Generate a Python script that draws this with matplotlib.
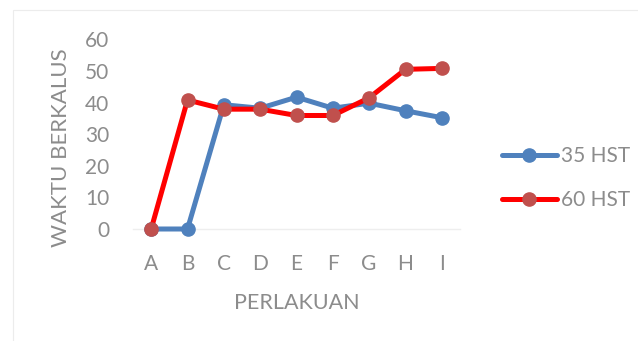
import matplotlib
matplotlib.use("Agg")
import matplotlib.pyplot as plt
from matplotlib.patches import Rectangle

categories = ["A", "B", "C", "D", "E", "F", "G", "H", "I"]
hst35 = [0, 0, 39.3, 38.2, 41.7, 38.2, 39.8, 37.4, 35.2]
hst60 = [0, 40.8, 37.9, 37.9, 35.9, 35.9, 41.5, 50.5, 50.8]
yticks = [0, 10, 20, 30, 40, 50, 60]

plt.rcParams["font.family"] = ["Lato", "DejaVu Sans"]
TXT = "#8c8c8c"

W, H = 638, 341
fig = plt.figure(figsize=(W / 100, H / 100), dpi=100)
fig.patch.set_facecolor("white")

# light chart-area frame
fig.patches.append(Rectangle((13 / W, -0.05), 1.2, (H - 10) / H + 0.05,
                             transform=fig.transFigure, fill=False,
                             edgecolor="#ececec", linewidth=0.8))

ax = fig.add_axes([133 / W, (H - 229) / H, (460 - 133) / W, (229 - 39.3) / H])
x = list(range(len(categories)))
ax.plot(x, hst35, color="#4f81bd", lw=3.6, marker="o", ms=9.5,
        mfc="#4f81bd", mec="#4f81bd", label="35 HST", solid_capstyle="round")
ax.plot(x, hst60, color="#ff0000", lw=3.6, marker="o", ms=9.5,
        mfc="#c0504d", mec="#c0504d", label="60 HST", solid_capstyle="round")

ax.set_xlim(-0.5, len(categories) - 0.5)
ax.set_ylim(0, 60)
ax.set_xticks(x)
ax.set_xticklabels(categories)
ax.set_yticks(yticks)
for s in ["top", "right", "left"]:
    ax.spines[s].set_visible(False)
ax.spines["bottom"].set_color("#eeeeee")
ax.spines["bottom"].set_linewidth(1.0)
ax.spines["bottom"].set_zorder(0)
ax.tick_params(length=0, labelsize=15, labelcolor=TXT)
ax.tick_params(axis="x", pad=18)
ax.tick_params(axis="y", pad=17)
for lab in ax.get_yticklabels() + ax.get_xticklabels():
    lab.set_clip_on(False)
for line in ax.lines:
    line.set_clip_on(False)

ax.set_ylabel("WAKTU BERKALUS", fontsize=16, color=TXT)
ax.yaxis.set_label_coords(-0.19, 0.427)
ax.set_xlabel("PERLAKUAN", fontsize=15.5, color=TXT, labelpad=14)

leg = ax.legend(loc="center left", bbox_to_anchor=(1.07, 0.269), frameon=False,
                fontsize=15, labelcolor=TXT, handlelength=2.65,
                handletextpad=0.2, labelspacing=1.15)

fig.savefig("out.png", dpi=100, facecolor="white")
